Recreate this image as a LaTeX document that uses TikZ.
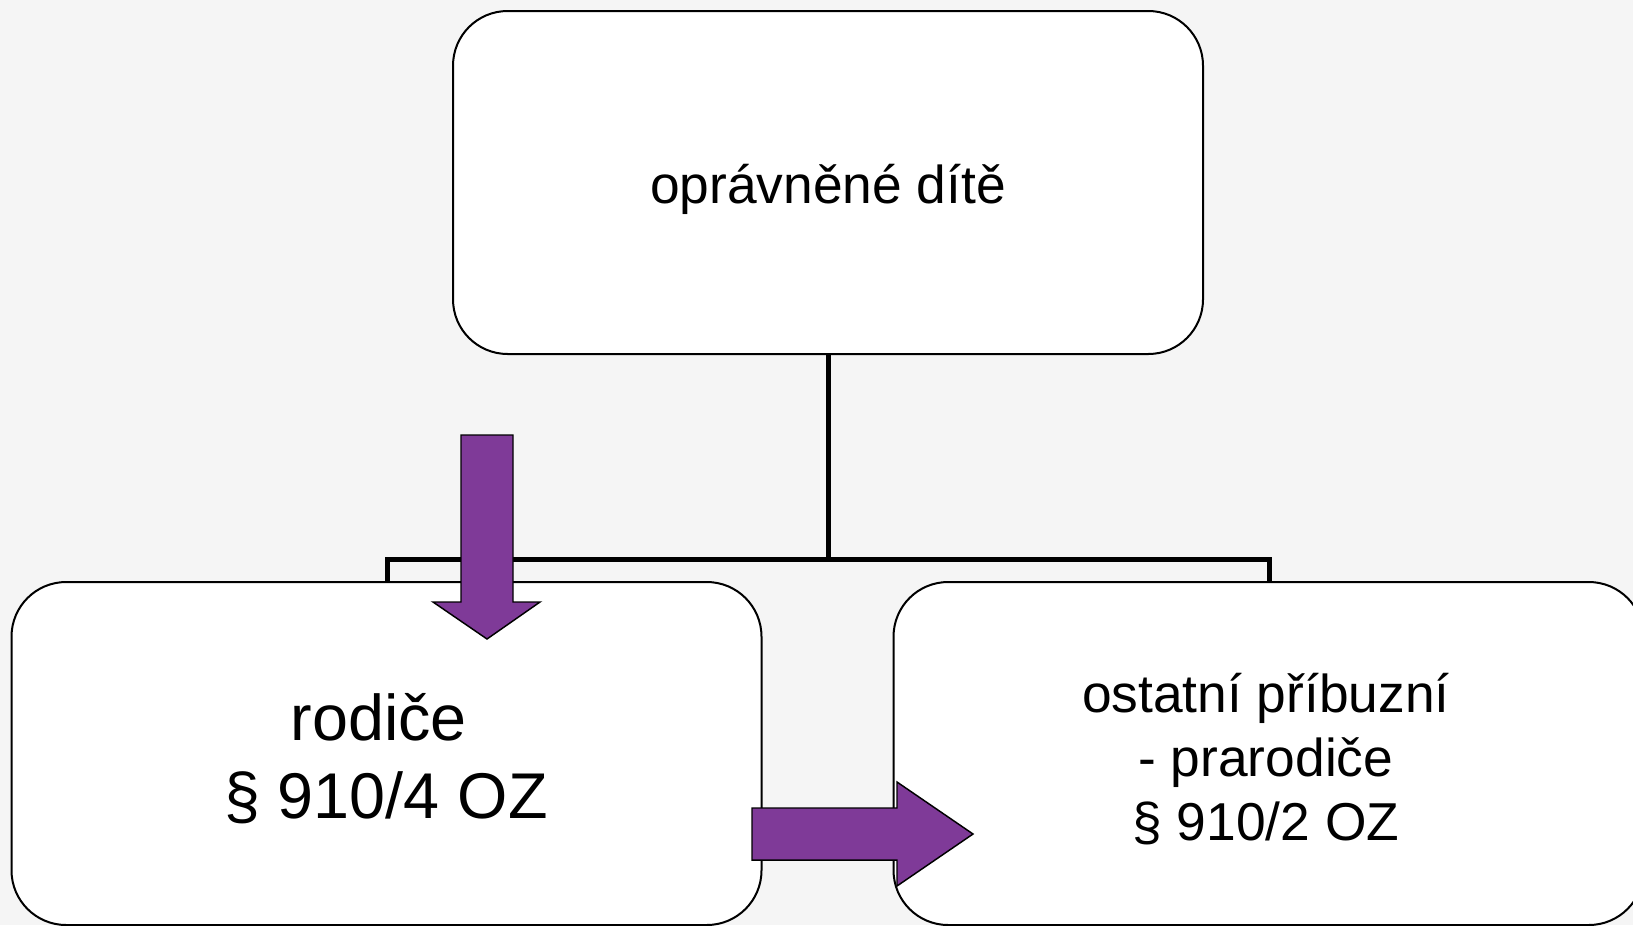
\documentclass[tikz,border=0pt]{standalone}
\usepackage{fontspec}
\setmainfont{Liberation Sans}
\definecolor{bgc}{HTML}{F5F5F5}
\definecolor{arrowfill}{HTML}{7F3A98}
\begin{document}
\begin{tikzpicture}[x=0.75pt,y=-0.75pt,
  boxnode/.style={draw=black, line width=1.5pt, fill=white, rounded corners=41pt,
    minimum width=562.5pt, minimum height=257.25pt, inner sep=0pt},
  boxtext/.style={align=center, inner sep=0pt, text=black},
  linkline/.style={draw=black, line width=3.75pt, line join=miter},
  bigarrow/.style={draw=black, line width=1.1pt, fill=arrowfill, line join=miter}]
\useasboundingbox (0,0) rectangle (1633,925);
\clip (0,0) rectangle (1633,925);
\fill[bgc] (0,0) rectangle (1633,925);
% connectors
\coordinate (j) at (828,559.5);
\coordinate (topb) at (828,354);
\coordinate (lefttop) at (387,583);
\coordinate (righttop) at (1269,583);
\draw[linkline] (topb) -- (j);
\draw[linkline] (lefttop) |- (j) -| (righttop);
% boxes
\node[boxnode] (top) at (828,182.5) {};
\node[boxnode] (left) at (386.5,753.5) {};
\node[boxnode] (right) at (1268.5,753.5) {};
% texts
\node[boxtext, font=\fontsize{40}{46}\selectfont] (toptext) at ([yshift=-5.5pt]top.center) {oprávněné dítě};
\node[boxtext, font=\fontsize{48.5}{58.5}\selectfont] (lefttext) at ([xshift=-0.5pt,yshift=-4pt]left.center) {rodiče\rule{0.22em}{0pt}\\§ 910/4 OZ};
\node[boxtext, font=\fontsize{40}{48}\selectfont] (righttext) at ([xshift=-2pt,yshift=-4pt]right.center) {ostatní příbuzní\\- prarodiče\\§ 910/2 OZ};
% purple arrows
\draw[bigarrow] (461,435) -- (513,435) -- (513,602) -- (540,602) -- (487,639) -- (433,602) -- (461,602) -- cycle;
\draw[bigarrow] (752,808) -- (897,808) -- (897,782) -- (973,834) -- (897,886) -- (897,860) -- (752,860) -- cycle;
\end{tikzpicture}
\end{document}
